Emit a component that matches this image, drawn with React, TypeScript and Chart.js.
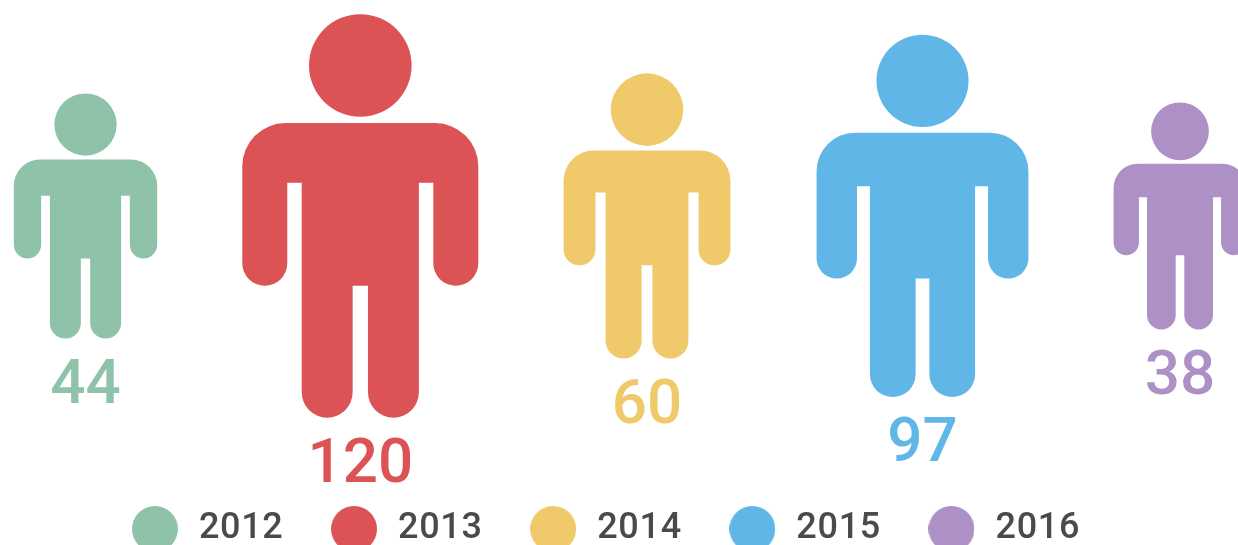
import React, { useEffect, useRef } from "react";
import { Chart, registerables } from "chart.js";

Chart.register(...registerables);

const years = ["2012", "2013", "2014", "2015", "2016"];
const values = [44, 120, 60, 97, 38];
const colors = ["#8FC3A9", "#DC5356", "#EFC96A", "#60B6E6", "#AC90C6"];
// The pictogram's size and slot for each year.
const figureHeights = [245, 403.3, 285, 362, 227];
const figureSlots = [85.5, 360.3, 647, 922.5, 1180];

const FONT = "Roboto, sans-serif";

function figurePath(ctx: CanvasRenderingContext2D, cx: number, cy: number, h: number) {
  const top = cy - h / 2;
  const X = (u: number) => cx + u * h;
  const Y = (u: number) => top + u * h;
  const sh = 0.2926, inner = 0.181, torso = 0.1453, gap = 0.019;
  const bodyTop = 0.2695, corner = 0.1066, armpit = 0.4173, armEnd = 0.6727;
  const armR = (sh - inner) / 2;
  const legR = (torso - gap) / 2;
  ctx.beginPath();
  ctx.arc(cx, Y(0.1265), 0.1272 * h, 0, Math.PI * 2);
  ctx.closePath();
  ctx.moveTo(X(-sh + corner), Y(bodyTop));
  ctx.lineTo(X(sh - corner), Y(bodyTop));
  ctx.arc(X(sh - corner), Y(bodyTop + corner), corner * h, -Math.PI / 2, 0);
  ctx.lineTo(X(sh), Y(armEnd - armR));
  ctx.arc(X(sh - armR), Y(armEnd - armR), armR * h, 0, Math.PI);
  ctx.lineTo(X(inner), Y(armpit));
  ctx.lineTo(X(torso), Y(armpit));
  ctx.lineTo(X(torso), Y(1 - legR));
  ctx.arc(X(torso - legR), Y(1 - legR), legR * h, 0, Math.PI);
  ctx.lineTo(X(gap), Y(armEnd));
  ctx.lineTo(X(-gap), Y(armEnd));
  ctx.lineTo(X(-gap), Y(1 - legR));
  ctx.arc(X(-gap - legR), Y(1 - legR), legR * h, 0, Math.PI);
  ctx.lineTo(X(-torso), Y(armpit));
  ctx.lineTo(X(-inner), Y(armpit));
  ctx.lineTo(X(-inner), Y(armEnd - armR));
  ctx.arc(X(-sh + armR), Y(armEnd - armR), armR * h, 0, Math.PI);
  ctx.lineTo(X(-sh), Y(bodyTop + corner));
  ctx.arc(X(-sh + corner), Y(bodyTop + corner), corner * h, Math.PI, Math.PI * 1.5);
  ctx.closePath();
}

function legendDot(color: string) {
  const c = document.createElement("canvas");
  c.width = 46;
  c.height = 46;
  const g = c.getContext("2d")!;
  g.fillStyle = color;
  g.beginPath();
  g.arc(23, 23, 23, 0, Math.PI * 2);
  g.fill();
  return c;
}

const pictogramPlugin = {
  id: "pictogram",
  beforeUpdate(chart: any) {
    chart.ctx.letterSpacing = "0.7px";
  },
  beforeDraw(chart: any) {
    chart.ctx.letterSpacing = "0.7px";
  },
  beforeDatasetDraw(chart: any, args: any) {
    const { ctx } = chart;
    const i = args.index;
    const el = args.meta.data[0];
    const h = figureHeights[i];
    ctx.save();
    ctx.letterSpacing = "0px";
    ctx.fillStyle = colors[i];
    figurePath(ctx, el.x, el.y, h);
    ctx.fill("nonzero");
    ctx.font = `500 62px ${FONT}`;
    ctx.textAlign = "center";
    ctx.textBaseline = "alphabetic";
    ctx.fillText(String(values[i]), el.x, el.y + h / 2 + 64);
    ctx.restore();
    return false;
  },
};

export default function App() {
  const ref = useRef<HTMLCanvasElement>(null);
  useEffect(() => {
    document.body.style.margin = "0";
    const dots = colors.map(legendDot);
    const chart = new Chart(ref.current!, {
      type: "scatter",
      data: {
        datasets: years.map((year, i) => ({
          label: year,
          data: [{ x: figureSlots[i], y: 0 }],
          backgroundColor: colors[i],
          pointRadius: 0,
        })),
      },
      options: {
        responsive: false,
        animation: false,
        layout: { padding: { right: 29 } },
        events: [],
        scales: {
          x: { type: "linear", display: false, min: 0, max: 1209 },
          y: { type: "linear", display: false, min: -1.159, max: 1 },
        },
        plugins: {
          tooltip: { enabled: false },
          legend: {
            position: "bottom",
            align: "center",
            labels: {
              usePointStyle: true,
              pointStyleWidth: 52,
              padding: 44.5,
              color: "#4A4A4A",
              font: { family: FONT, size: 36, weight: "500" },
              generateLabels(c: any) {
                const base = (Chart.defaults.plugins.legend.labels as any).generateLabels(c);
                return base.map((item: any, i: number) => ({ ...item, pointStyle: dots[i] }));
              },
            },
          },
        },
      },
      plugins: [pictogramPlugin],
    } as any);
    return () => chart.destroy();
  }, []);
  return (
    <div style={{ width: 1238, height: 545, overflow: "hidden", background: "#fff" }}>
      <canvas ref={ref} width={1238} height={557} style={{ display: "block" }} />
    </div>
  );
}
